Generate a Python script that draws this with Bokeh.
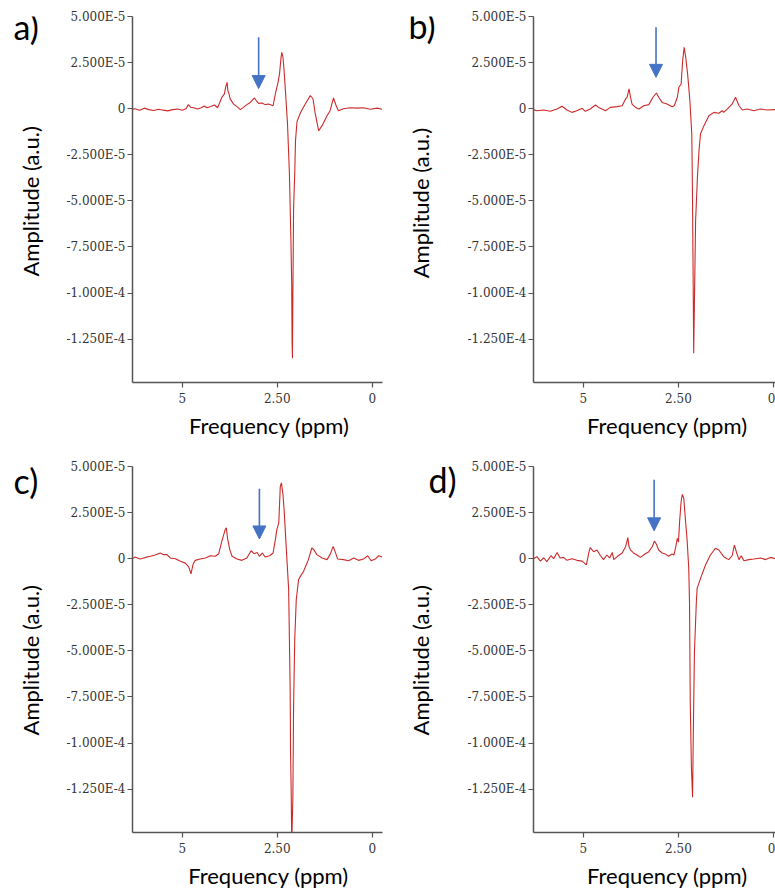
import math
from bokeh.plotting import figure
from bokeh.models import Range1d, FixedTicker, Arrow, NormalHead, Label
from bokeh.layouts import gridplot
from bokeh.embed import file_html
from bokeh.resources import INLINE

# ---------------- data (amplitude in units of 1E-5) ----------------
ppm_a = [6.32, 6.25, 6.12, 6.00, 5.88, 5.75, 5.62, 5.50, 5.38, 5.25,
         5.12, 5.00, 4.90, 4.84, 4.78, 4.70, 4.60, 4.50, 4.42, 4.35,
         4.25, 4.15, 4.07, 3.96, 3.89, 3.86, 3.82, 3.80, 3.77, 3.74,
         3.65, 3.56, 3.47, 3.39, 3.30, 3.21, 3.10, 3.05, 2.99, 2.90,
         2.82, 2.73, 2.61, 2.55, 2.51, 2.48, 2.44, 2.40, 2.38, 2.35,
         2.32, 2.28, 2.23, 2.18, 2.14, 2.12, 2.11, 2.10, 2.09, 2.07,
         2.04, 2.02, 1.98, 1.89, 1.76, 1.63, 1.56, 1.50, 1.41, 1.32,
         1.19, 1.11, 1.02, 0.95, 0.89, 0.76, 0.58, 0.39, 0.24, 0.05,
         -0.13, -0.26]
amp_a = [-0.05, 0.00, -0.08, 0.03, -0.05, -0.10, -0.03, -0.08, -0.12, -0.05,
         -0.02, -0.08, 0.00, 0.22, 0.08, 0.05, -0.02, 0.05, 0.15, 0.05,
         0.12, 0.20, 0.05, 0.61, 0.80, 1.16, 1.43, 0.98, 0.80, 0.53,
         0.25, 0.11, -0.05, 0.07, 0.22, 0.34, 0.58, 0.43, 0.29, 0.31,
         0.22, 0.25, 0.16, 0.80, 1.16, 1.43, 1.89, 2.79, 3.06, 2.79,
         2.07, 0.80, -0.82, -3.53, -7.17, -9.51, -12.60, -13.53, -10.40, -5.38,
         -3.53, -1.74, -0.70, -0.22, 0.27, 0.71, 0.54, -0.27, -1.20, -0.92,
         -0.38, -0.11, 0.58, 0.16, -0.11, 0.00, 0.05, 0.03, 0.05, -0.03,
         0.03, -0.03]

ppm_b = [6.32, 6.22, 6.04, 5.87, 5.69, 5.56, 5.43, 5.30, 5.17, 5.03,
         4.95, 4.82, 4.68, 4.60, 4.51, 4.42, 4.29, 4.11, 3.98, 3.89,
         3.85, 3.80, 3.76, 3.72, 3.63, 3.54, 3.41, 3.28, 3.17, 3.08,
         3.02, 2.93, 2.80, 2.67, 2.61, 2.53, 2.49, 2.43, 2.39, 2.35,
         2.31, 2.26, 2.20, 2.15, 2.13, 2.11, 2.10, 2.08, 2.05, 2.00,
         1.96, 1.92, 1.83, 1.70, 1.57, 1.44, 1.35, 1.31, 1.22, 1.09,
         1.00, 0.91, 0.82, 0.69, 0.52, 0.34, 0.17, -0.05]
amp_b = [-0.05, -0.11, -0.07, -0.14, -0.02, 0.13, -0.07, -0.20, -0.11, 0.02,
         -0.14, -0.02, 0.20, 0.07, -0.02, -0.11, 0.07, 0.11, 0.16, 0.53,
         0.62, 1.07, 0.62, 0.25, 0.07, -0.02, 0.16, 0.22, 0.62, 0.85,
         0.62, 0.34, 0.25, 0.11, 0.16, 0.62, 1.16, 1.34, 2.61, 3.33,
         2.79, 1.89, 0.43, -1.38, -5.00, -10.40, -13.26, -10.40, -6.09, -3.64,
         -2.28, -1.36, -0.92, -0.38, -0.20, -0.25, -0.11, -0.20, -0.02, 0.25,
         0.62, 0.16, -0.07, -0.02, -0.11, -0.02, -0.07, -0.05]

ppm_c = [6.32, 6.24, 6.11, 5.97, 5.84, 5.71, 5.58, 5.49, 5.40, 5.32,
         5.18, 5.05, 4.92, 4.83, 4.77, 4.72, 4.66, 4.53, 4.39, 4.26,
         4.13, 4.04, 3.96, 3.87, 3.84, 3.81, 3.75, 3.69, 3.56, 3.43,
         3.30, 3.19, 3.11, 3.03, 2.97, 2.89, 2.82, 2.70, 2.61, 2.55,
         2.51, 2.46, 2.42, 2.39, 2.35, 2.32, 2.28, 2.24, 2.20, 2.18,
         2.16, 2.15, 2.13, 2.12, 2.09, 2.07, 2.04, 2.00, 1.94, 1.89,
         1.81, 1.68, 1.59, 1.54, 1.46, 1.32, 1.19, 1.11, 1.03, 0.97,
         0.91, 0.76, 0.62, 0.49, 0.36, 0.23, 0.12, 0.03, -0.08, -0.17,
         -0.26]
amp_c = [0.00, 0.09, -0.02, 0.07, 0.13, 0.20, 0.31, 0.22, 0.22, 0.04,
         0.00, -0.14, -0.24, -0.45, -0.82, -0.33, -0.09, -0.02, 0.04, 0.16,
         0.13, 0.27, 0.94, 1.58, 1.67, 1.12, 0.49, 0.13, -0.02, -0.09,
         0.04, 0.43, 0.27, 0.34, 0.13, 0.31, 0.09, 0.16, 0.31, 1.03,
         1.58, 1.94, 3.93, 4.11, 3.48, 2.66, 1.21, -0.24, -1.68, -4.40,
         -7.12, -10.40, -13.10, -15.50, -13.10, -8.03, -4.40, -2.23, -1.14, -0.96,
         -0.69, -0.05, 0.58, 0.50, 0.22, 0.04, -0.05, 0.22, 0.67, 0.34,
         -0.02, -0.05, -0.11, 0.04, -0.09, -0.02, 0.16, -0.11, -0.02, 0.16,
         0.09]

ppm_d = [6.31, 6.22, 6.13, 6.04, 5.96, 5.85, 5.78, 5.69, 5.61, 5.52,
         5.43, 5.30, 5.17, 5.03, 4.92, 4.86, 4.82, 4.73, 4.64, 4.55,
         4.47, 4.38, 4.31, 4.24, 4.20, 4.10, 3.98, 3.89, 3.83, 3.80,
         3.76, 3.68, 3.59, 3.50, 3.37, 3.28, 3.19, 3.13, 3.08, 3.02,
         2.93, 2.84, 2.76, 2.67, 2.62, 2.58, 2.53, 2.50, 2.47, 2.43,
         2.40, 2.36, 2.32, 2.27, 2.23, 2.21, 2.19, 2.16, 2.13, 2.11,
         2.08, 2.03, 2.01, 1.92, 1.79, 1.66, 1.53, 1.44, 1.31, 1.18,
         1.09, 1.03, 0.97, 0.91, 0.85, 0.78, 0.65, 0.52, 0.34, 0.21,
         0.08, -0.05]
amp_d = [0.00, 0.11, -0.13, 0.05, -0.16, 0.16, 0.00, 0.34, 0.04, 0.07,
         -0.09, 0.00, -0.09, -0.13, -0.34, 0.29, 0.60, 0.38, 0.47, 0.16,
         -0.05, 0.20, 0.04, 0.34, -0.05, 0.13, 0.31, 0.65, 1.14, 0.65,
         0.47, 0.31, 0.20, 0.07, 0.27, 0.38, 0.65, 0.96, 0.78, 0.47,
         0.31, 0.25, 0.13, 0.25, 0.20, 0.56, 1.10, 0.90, 2.01, 3.10,
         3.49, 3.28, 2.19, 0.92, -0.53, -2.34, -7.80, -11.30, -12.94, -9.50,
         -5.05, -2.34, -1.61, -1.07, -0.34, 0.20, 0.56, 0.47, 0.11, -0.05,
         0.16, 0.74, 0.31, -0.05, 0.16, -0.11, -0.05, -0.02, 0.04, -0.05,
         0.07, 0.00]

# arrows (ppm position, shaft top, tip) per panel
arrow_ppm = [2.99, 3.09, 2.97, 3.14]
arrow_top = [3.88, 4.42, 3.79, 4.28]
arrow_tip = [1.09, 1.70, 1.07, 1.51]

panel_letters = ["a)", "b)", "c)", "d)"]
x_title = "Frequency (ppm)"
y_title = "Amplitude (a.u.)"

x_ticks = [5, 2.5, 0]
x_tick_labels = {5: "5", 2.5: "2.50", 0: "0"}
y_ticks = [5, 2.5, 0, -2.5, -5, -7.5, -10, -12.5]
y_tick_labels = {5: "5.000E-5", 2.5: "2.500E-5", 0: "0", -2.5: "-2.500E-5",
                 -5: "-5.000E-5", -7.5: "-7.500E-5", -10: "-1.000E-4",
                 -12.5: "-1.250E-4"}

LINE = "#cc2a2a"
BLUE = "#4472C4"
AXIS = "#555555"
TITLE_FONT = "Lato"


def blank(w, h):
    """Axis-free figure whose frame fills it, in pixel coordinates (y downward)."""
    s = figure(width=w, height=h, x_range=Range1d(0, w), y_range=Range1d(h, 0),
               title=None, output_backend="svg", toolbar_location=None,
               x_axis_location=None, y_axis_location=None,
               min_border_left=0, min_border_right=0, min_border_top=0, min_border_bottom=0)
    s.outline_line_color = None
    s.grid.visible = False
    return s


def left_strip(w, h, letter, lx, ly, tx, ty):
    s = blank(w, h)
    s.add_layout(Label(x=lx, y=ly, text=letter,
                       text_font=TITLE_FONT, text_font_size="34px", text_color="#000000",
                       text_baseline="alphabetic", text_align="left"))
    s.add_layout(Label(x=tx, y=ty, text=y_title, angle=math.pi / 2,
                       text_font=TITLE_FONT, text_font_size="22px", text_color="#000000",
                       text_baseline="middle", text_align="center"))
    return s


def bottom_strip(w, h, cx, by):
    s = blank(w, h)
    s.add_layout(Label(x=cx, y=by, text=x_title,
                       text_font=TITLE_FONT, text_font_size="22px", text_color="#000000",
                       text_baseline="alphabetic", text_align="center"))
    return s


def panel(i, ppm, amp, x_rng, w, h, bl, br, bt, bb):
    p = figure(width=w, height=h, x_range=Range1d(*x_rng), y_range=Range1d(-14.85, 5.0),
               title=None, output_backend="svg", toolbar_location=None,
               min_border_left=bl, min_border_right=br, min_border_top=bt, min_border_bottom=bb)
    p.outline_line_color = None
    p.grid.visible = False
    p.line(ppm, amp, line_color=LINE, line_width=1.1)

    for ax in (p.xaxis[0], p.yaxis[0]):
        ax.axis_line_color = AXIS
        ax.axis_line_width = 1.5
        ax.major_tick_line_color = AXIS
        ax.major_tick_line_width = 1.2
        ax.major_tick_in = 0
        ax.major_tick_out = 5
        ax.minor_tick_line_color = None
        ax.major_label_text_font = "DejaVu Serif"
        ax.major_label_text_font_size = "12px"
        ax.major_label_text_color = "#333333"

    p.xaxis.ticker = FixedTicker(ticks=x_ticks)
    p.xaxis.major_label_overrides = x_tick_labels
    p.xaxis.major_label_standoff = 5

    p.yaxis.ticker = FixedTicker(ticks=y_ticks)
    p.yaxis.major_label_overrides = y_tick_labels
    p.yaxis.major_label_standoff = 2

    p.add_layout(Arrow(end=NormalHead(size=13, fill_color=BLUE, line_color=BLUE),
                       x_start=arrow_ppm[i], y_start=arrow_top[i],
                       x_end=arrow_ppm[i], y_end=arrow_tip[i],
                       line_color=BLUE, line_width=1.6))
    return p


# top row (panels a, b)
sa = left_strip(48, 408, panel_letters[0], 13, 11, 30, 206)
pa = panel(0, ppm_a, amp_a, (6.31, -0.27), 342, 408, 84, 8, 16, 26)
sb = left_strip(72, 408, panel_letters[1], 18, 10, 30, 208)
pb = panel(1, ppm_b, amp_b, (6.31, -0.05), 313, 408, 71, 0, 16, 26)
xa = bottom_strip(342, 40, 187, 17)
xb = bottom_strip(313, 40, 173, 17)

# bottom row (panels c, d)
sc = left_strip(48, 410, panel_letters[2], 13, 16, 30, 217)
pc = panel(2, ppm_c, amp_c, (6.31, -0.27), 342, 410, 84, 8, 18, 26)
sd = left_strip(72, 410, panel_letters[3], 38, 15, 30, 217)
pd = panel(3, ppm_d, amp_d, (6.31, -0.05), 313, 410, 71, 0, 18, 26)
xc = bottom_strip(342, 34, 186, 17)
xd = bottom_strip(313, 34, 173, 17)

grid = gridplot([[sa, pa, sb, pb],
                 [None, xa, None, xb],
                 [sc, pc, sd, pd],
                 [None, xc, None, xd]], toolbar_location=None)

open("out.html", "w").write(file_html(grid, INLINE))
